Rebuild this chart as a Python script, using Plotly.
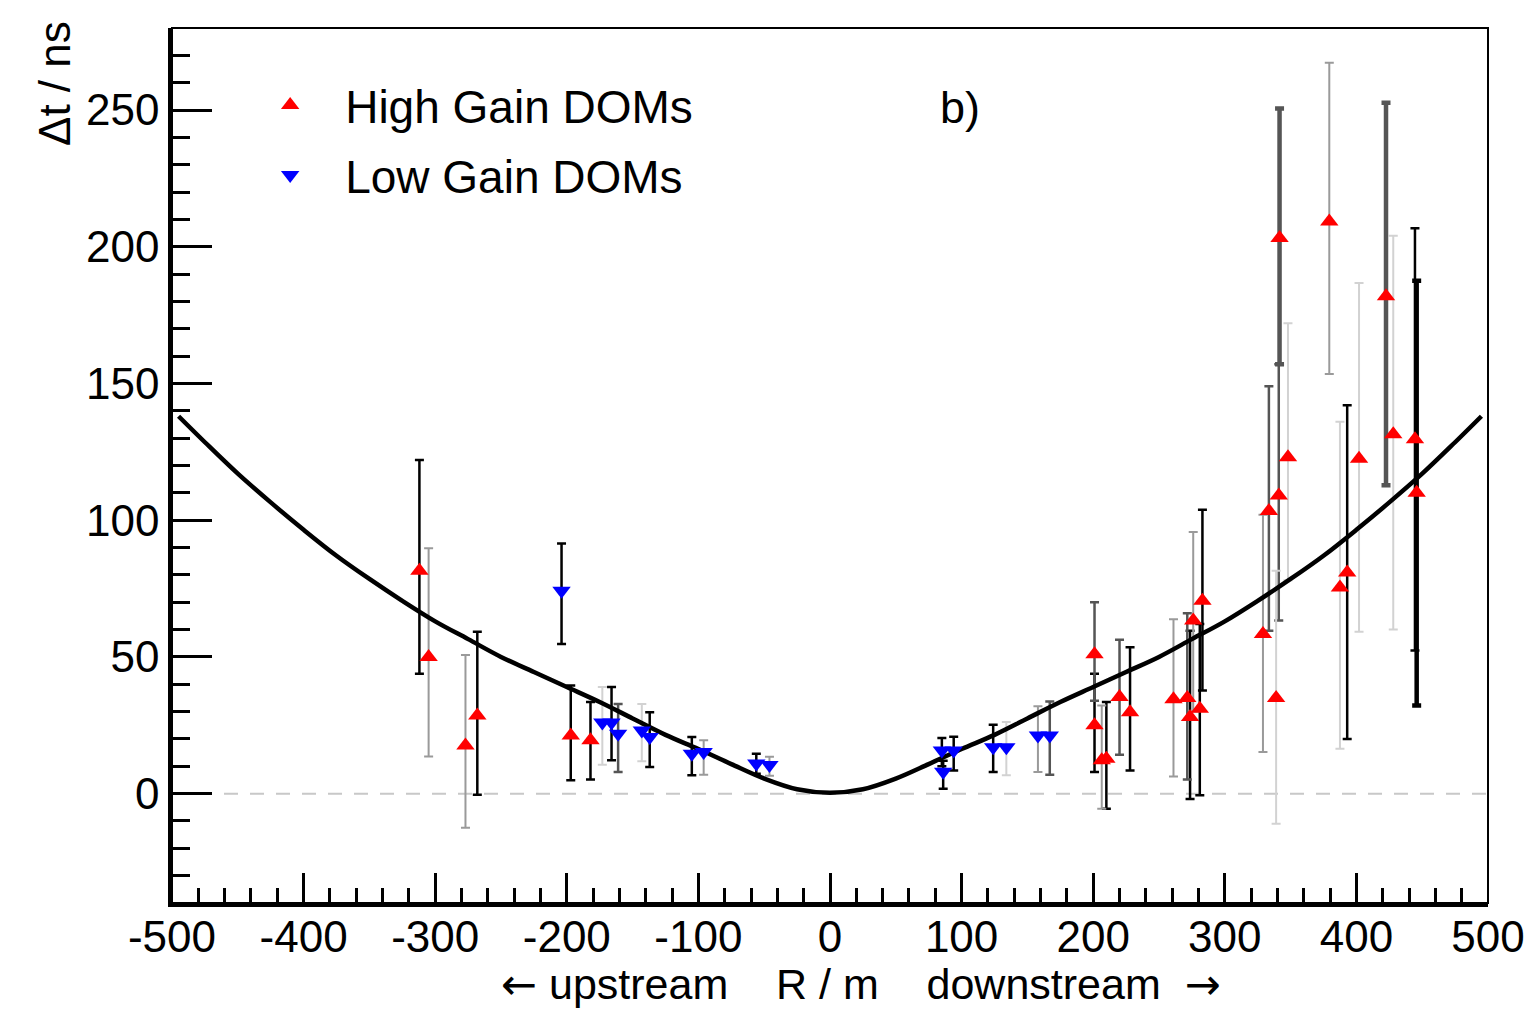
import plotly.graph_objects as go

# ---------------- data ----------------
# High Gain DOMs (red, triangle-up): R [m], dt [ns], upper end, lower end, bar shade
hg_r = [-312, -305, -277, -268, -197, -182, 201, 201, 206.5, 210, 220, 228, 261, 271.5, 273.6, 276,
        281, 283, 329, 333.5, 339, 341, 341.6, 348, 379.4, 387.5, 393, 402, 422.5, 428, 444.5, 445.8]
hg_dt = [81.5, 50, 17.6, 28.6, 21.3, 19.5, 51, 25, 12.2, 12.8, 35.3, 29.8, 34.5, 35, 28, 63.3,
         31, 70.5, 58.4, 103.4, 35, 109, 203.2, 123, 209.2, 75.4, 80.9, 122.5, 181.9, 131.4, 129.6, 110]
hg_hi = [122, 89.7, 50.7, 59.2, 39.5, 33.5, 70, 43.8, 32.2, 33.5, 56.3, 53.5, 63.8, 66, 59.6, 95.7,
         62, 103.8, 102, 149, 81.5, 157, 250.6, 172, 267.3, 136, 142, 186.7, 252.7, 204, 206.8, 187.6]
hg_lo = [43.8, 13.6, -12.5, -0.4, 4.9, 5.2, 34, 7.9, -5.5, -5.5, 14.2, 8.5, 6.3, 5.2, -2, 30,
         -0.6, 37.7, 15.2, 59.6, -11, 63.3, 157, 78, 153.5, 16.4, 20, 59.2, 112.8, 60, 52.3, 32.2]
hg_shade = ["k", "g", "g", "k", "k", "k", "d", "k", "g", "k", "d", "k", "g", "d", "k", "g",
            "k", "k", "g", "d", "l", "d", "D", "l", "g", "l", "k", "l", "D", "l", "k", "K"]

# Low Gain DOMs (blue, triangle-down)
lg_r = [-204, -173, -166, -161, -143, -137, -105, -96, -56, -46, 85, 86, 94, 124, 134, 158, 167]
lg_dt = [74.2, 26, 26, 21.9, 23.1, 20.7, 14.6, 15.2, 11, 10.5, 15.8, 8, 15.8, 17, 17, 21.3, 21.3]
lg_hi = [91.5, 39, 39, 32.8, 32.8, 29.8, 20.7, 19.5, 14.6, 13.5, 20.3, 12, 20.8, 25.2, 26.2, 32, 33.7]
lg_lo = [54.7, 10.6, 12.2, 7.9, 11.8, 9.7, 6.7, 6.9, 7.3, 6.5, 10, 1.8, 8.5, 7.9, 6.7, 7.9, 6.9]
lg_shade = ["k", "l", "k", "d", "l", "k", "k", "g", "k", "g", "k", "k", "k", "k", "l", "g", "d"]

# fit curve
fit_r = [-495, -475, -450, -425, -400, -375, -350, -325, -300, -275, -250, -225, -200, -175, -150,
         -125, -100, -75, -50, -25, 0, 25, 50, 75, 100, 125, 150, 175, 200, 225, 250, 275, 300,
         325, 350, 375, 400, 425, 450, 475, 495]
fit_dt = [138, 128.5, 117, 106.5, 96.5, 87, 78.5, 70.5, 63, 56.5, 50, 44.5, 39, 33.5, 27.5,
          21.5, 16.3, 10.8, 5.5, 1.6, 0.3, 1.6, 5.5, 10.8, 16.3, 21.5, 27.5, 33.5, 39, 44.5, 50, 56.5, 63,
          70.5, 78.5, 87, 96.5, 106.5, 117, 128.5, 138]

x_ticks = [-500, -400, -300, -200, -100, 0, 100, 200, 300, 400, 500]
x_tick_text = ["-500", "-400", "-300", "-200", "-100", "0", "100", "200", "300", "400", "500"]
y_ticks = [0, 50, 100, 150, 200, 250]

# ---------------- styles ----------------
SHADES = {
    "k": ("#000000", 2.5),
    "d": ("#555555", 2.5),
    "g": ("#9a9a9a", 2),
    "l": ("#d2d2d2", 2),
    "K": ("#000000", 4.5),
    "D": ("#555555", 4.5),
}
FONT = "Liberation Sans, Arial, Helvetica, sans-serif"

fig = go.Figure()

# error bars first (drawn under curve and markers)
def add_err(rs, dts, his, los, shades):
    for key, (col, th) in SHADES.items():
        idx = [i for i, s in enumerate(shades) if s == key]
        if not idx:
            continue
        fig.add_trace(go.Scatter(
            x=[rs[i] for i in idx], y=[dts[i] for i in idx], mode="markers",
            marker=dict(size=1, opacity=0), showlegend=False, hoverinfo="skip",
            error_y=dict(type="data", symmetric=False,
                         array=[his[i] - dts[i] for i in idx],
                         arrayminus=[dts[i] - los[i] for i in idx],
                         color=col, thickness=th, width=4.5)))

add_err(hg_r, hg_dt, hg_hi, hg_lo, hg_shade)
add_err(lg_r, lg_dt, lg_hi, lg_lo, lg_shade)

fig.add_trace(go.Scatter(x=fit_r, y=fit_dt, mode="lines", line=dict(color="black", width=4.5, shape="spline"),
                         showlegend=False, hoverinfo="skip"))

fig.add_trace(go.Scatter(x=hg_r, y=hg_dt, mode="markers", name="High Gain DOMs",
                         marker=dict(symbol="triangle-up", size=16, color="#ff0000"), legend="legend"))
fig.add_trace(go.Scatter(x=lg_r, y=lg_dt, mode="markers", name="Low Gain DOMs",
                         marker=dict(symbol="triangle-down", size=16, color="#0000ff"), legend="legend2"))

axis_common = dict(showline=True, linecolor="black", linewidth=3.5, ticks="inside", tickcolor="black",
                   tickwidth=2.5, showgrid=False, zeroline=False,
                   tickfont=dict(family=FONT, size=44, color="black"))

ARROW = "font-family:DejaVu Sans;font-size:43px"
xtitle = ("<span style='%s'>\u2190</span> upstream\u00a0\u00a0\u00a0\u00a0R / m\u00a0\u00a0\u00a0\u00a0downstream"
          "\u00a0\u00a0<span style='%s'>\u2192</span>") % (ARROW, ARROW)

fig.update_layout(
    width=1537, height=1010,
    margin=dict(l=172, r=49, t=28, b=107),
    paper_bgcolor="white", plot_bgcolor="white",
    font=dict(family=FONT, color="black"),
    xaxis=dict(range=[-500, 500], tickvals=x_ticks, ticktext=x_tick_text, ticklen=30,
               ticklabelstandoff=-8,
               minor=dict(dtick=20, ticklen=15, ticks="inside", tickcolor="black", tickwidth=2.5),
               **axis_common),
    yaxis=dict(range=[-40, 280], tickvals=y_ticks, ticklen=40,
               minor=dict(dtick=10, ticklen=18, ticks="inside", tickcolor="black", tickwidth=2.5),
               **axis_common),
    legend=dict(x=0.048, y=0.912, xanchor="left", yanchor="middle", bgcolor="rgba(0,0,0,0)",
                font=dict(family=FONT, size=46, color="black"), itemwidth=100),
    legend2=dict(x=0.048, y=0.832, xanchor="left", yanchor="middle", bgcolor="rgba(0,0,0,0)",
                 font=dict(family=FONT, size=46, color="black"), itemwidth=100),
    shapes=[
        dict(type="line", xref="paper", x0=0, x1=1, yref="y", y0=0, y1=0,
             line=dict(color="#c8c8c8", width=2, dash="14px,12px"), layer="below"),
        dict(type="rect", xref="paper", yref="paper", x0=0, x1=1, y0=0, y1=1,
             line=dict(color="black", width=2)),
    ],
    annotations=[
        dict(text=xtitle,
             xref="paper", yref="paper", x=0.5236, y=-0.092, xanchor="center", yanchor="middle",
             showarrow=False, font=dict(family=FONT, size=43, color="black")),
        dict(text="\u0394t / ns", xref="paper", yref="paper", x=-0.0889, y=0.936, textangle=-90,
             xanchor="center", yanchor="middle", showarrow=False,
             font=dict(family=FONT, size=44, color="black")),
        dict(text="b)", xref="paper", yref="paper", x=0.599, y=0.9086, xanchor="center", yanchor="middle",
             showarrow=False, font=dict(family=FONT, size=45, color="black")),
    ],
)

fig.write_html("out.html")
